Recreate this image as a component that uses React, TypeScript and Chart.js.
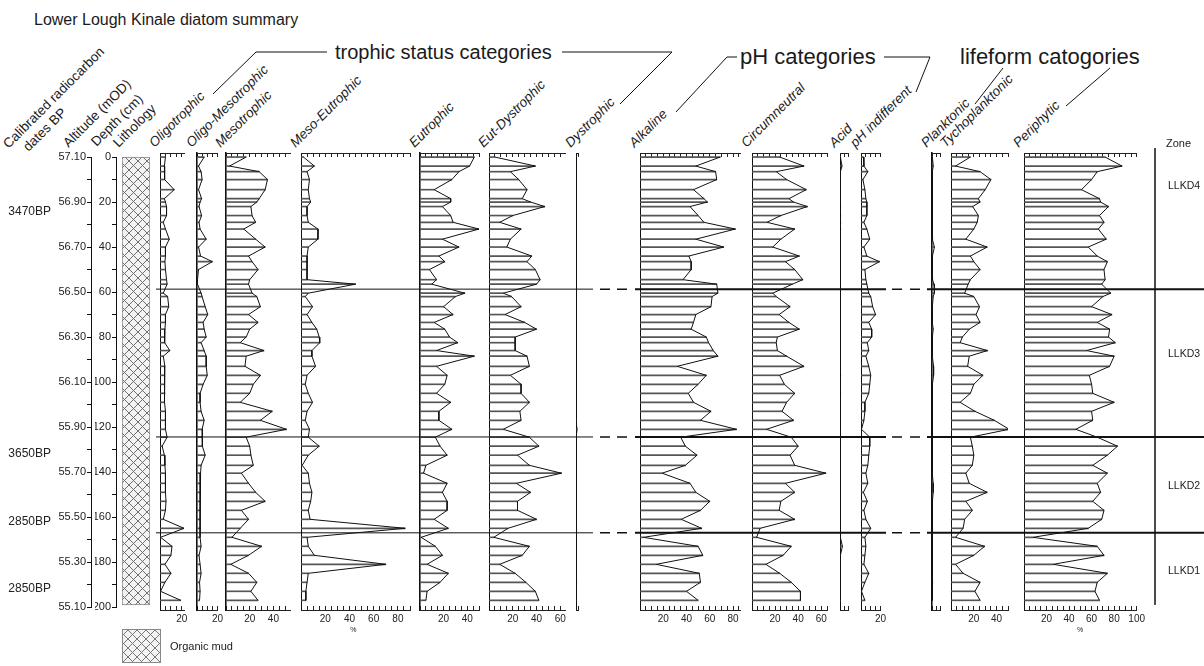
import React, { useEffect, useRef } from 'react';
import { Chart, registerables } from 'chart.js';

Chart.register(...registerables);

const FONT = "'Liberation Sans', Arial, Helvetica, sans-serif";
Chart.defaults.font.family = FONT;
Chart.defaults.color = '#222';

// ---------------- data ----------------
const sampleDepths = [0, 4, 6.5, 10, 14.5, 18.5, 20, 22, 26, 29, 32, 36.5, 40, 44, 46.5, 50, 54.5, 56.5, 60.5, 62, 66.5, 70, 73.5, 76.5, 80, 82.5, 86, 88.5, 93, 97, 101, 105, 109, 113, 117, 121, 124.5, 128.5, 132.5, 137, 140.5, 145, 149, 153, 157, 161, 165, 169, 173, 177, 181, 185, 189, 193, 197];

const oligotrophic = [5, 4, 4.5, 4, 13, 4, 5, 6, 6, 3, 5, 8.5, 5, 5, 4.5, 5, 6, 6.5, 3, 7, 8, 5, 5, 4.5, 4, 4.5, 9, 3, 4.5, 4, 4, 4.5, 4, 5, 5, 5, 6.5, 2, 4, 4.5, 5, 5, 5, 5.5, 5, 3, 22, 0.5, 11, 10, 4.5, 10, 4.5, 0.5, 19];
const oligoMesotrophic = [7, 1.5, 4, 5, 1.5, 4.5, 3, 2, 4.5, 2, 3, 9, 1.5, 3.5, 15, 1.5, 0.5, 0.5, 4, 5, 8, 10.5, 6, 7, 9, 4, 7, 9, 9, 10, 6, 3, 3, 4, 7, 5, 5, 5.5, 8, 4, 3.5, 3, 3, 3, 3, 3, 3, 3, 4, 2, 3, 4, 2.5, 3, 2.5];
const mesotrophic = [17, 3, 28, 35, 33, 28, 26, 21, 22, 25, 15, 25, 33, 19, 22, 27, 20, 19, 22, 26, 29, 19, 27, 20, 17, 12, 32, 17, 16, 29, 23, 20, 12, 39, 29, 51, 17, 20, 21, 23, 13, 19, 25, 33, 13, 19, 12, 5, 30, 19, 4, 19, 26, 21, 27];
const mesoEutrophic = [2, 11, 5, 7, 6, 7, 8, 5, 5, 6, 14, 14, 6, 5, 5, 5, 5, 45, 6, 3.5, 9.5, 5, 9, 13, 15, 15.5, 9, 9, 12, 5, 3.5, 6, 9.5, 5, 3.5, 7, 6, 15, 6, 1, 6, 7, 9, 8, 6, 7.5, 86, 5, 6, 11, 70, 6, 5, 4, 4];
const eutrophic = [46, 42, 33, 27, 12, 26, 26, 19, 26, 28, 50, 19, 33, 16, 21, 8, 14, 10, 38, 30, 20, 28, 12, 21, 25, 32, 14, 46, 14, 23, 21, 14, 26, 16, 16, 27, 13, 17, 23, 5, 3, 23, 19, 23, 23, 12, 24, 1, 13, 19, 6, 24, 17, 6, 5];
const eutDystrophic = [5, 39, 18, 25, 32, 28, 35, 47, 20, 9, 27, 18, 15, 36, 32, 39, 43, 40, 12, 19, 27, 13.5, 30, 40, 22, 22, 22, 32, 34, 18, 27, 27, 34, 26, 27, 12, 34, 42, 24, 34, 61, 23, 35, 24, 24, 40, 16, 4, 34, 28, 9, 22, 31, 39, 42];
const dystrophic = [0, 0, 0, 0, 0, 0, 0, 0, 0, 0, 0, 0, 0, 0, 0, 0, 0, 0, 0, 0, 0, 0, 0, 0, 0, 0, 0, 0, 0, 0, 0, 0, 0, 0, 0.5, 2.5, 0.5, 0, 0, 0, 0, 0, 0, 0, 0, 0, 0, 0, 0, 0, 0, 0.5, 2, 0.5, 0];
const alkaline = [69, 48, 65, 66, 46, 55, 58, 43, 50, 55, 82, 48, 72, 42, 44, 44, 37, 66, 67, 62, 61, 48, 46, 44, 57, 59, 63, 67, 32, 57, 50, 41.5, 46, 61, 52, 83, 35, 39, 49, 39, 19, 43, 48, 60, 52, 35.5, 53, 3, 50, 54, 14, 51, 52, 40, 50];
const circumneutral = [24, 45, 21, 30, 47, 32, 36, 48, 25, 13, 37, 25, 18, 41, 29, 37, 44, 35, 18, 21, 33, 23.5, 32, 41, 22, 21, 22, 30, 45, 24, 28, 37, 30, 26, 36, 12.6, 34, 40, 33, 37, 64, 29, 37, 25, 23.5, 37, 7, 4, 34, 27, 12, 24, 34, 42, 42];
const acid = [0.5, 2.5, 0.5, 0.3, 0.3, 0.5, 0.8, 1, 1, 1, 1, 0.8, 0.5, 0.3, 0.3, 0.3, 0.3, 0.3, 0.3, 0.3, 0.3, 0.3, 0.3, 0.3, 0.3, 0.3, 0.3, 0.3, 0.5, 1, 0.5, 1, 0.5, 0.3, 0.3, 0.3, 0.3, 0.3, 0.3, 0.3, 0.3, 0.3, 0.3, 0.3, 0.3, 0.3, 0.3, 0.5, 3, 0.5, 0.3, 0.3, 0.3, 0.3, 0.3];
const phIndifferent = [2.5, 3, 7, 2, 4, 5, 6, 6, 6, 3, 6, 9, 3, 6, 19, 4, 5, 6, 8, 10, 12, 15, 8, 11, 11, 6.5, 8, 5, 8, 10, 9, 8, 4, 4, 3, 0.5, 9, 9, 8, 7, 5, 7, 2.5, 6.5, 3, 5, 10, 4, 5, 4, 3, 8, 4, 0.5, 4];
const planktonic = [0.5, 1.5, 0.5, 0.3, 0.3, 0.3, 0.3, 0.3, 0.3, 0.3, 0.5, 1, 3, 0.5, 0.3, 0.3, 1, 2.5, 3, 1.5, 0.5, 0.3, 0.5, 1.5, 0.5, 0.3, 0.3, 0.5, 2, 2, 0.5, 0.3, 0.3, 0.3, 0.3, 0.3, 0.3, 0.3, 0.3, 0.3, 0.5, 1.5, 1.5, 0.5, 0.3, 0.3, 0.3, 0.3, 0.3, 0.3, 0.3, 0.5, 1, 0.5, 0.3];
const tychoplanktonic = [17, 4, 25.5, 35, 30, 24, 25.5, 19, 24, 23, 20, 13, 31.7, 17, 20, 25.5, 17, 15, 12, 20, 25, 22, 25.5, 16, 10, 8, 32, 16, 14.6, 28, 20, 17, 8, 21, 38, 51, 17, 18.7, 20, 18.7, 13, 16, 31.7, 13, 18.7, 12, 10.6, 4, 29.5, 20, 4, 10.6, 25.5, 21, 25.5];
const periphytic = [72, 87, 65, 60, 51, 67, 68, 75, 67, 71, 66, 73, 57, 65, 74, 71, 72, 69, 77, 70, 60, 78, 65, 76, 75, 81, 55.5, 80, 76, 58, 60, 61, 80, 60, 61, 46, 65, 83, 74, 61, 74, 65, 68, 61, 71, 69, 57, 8, 65, 71, 26, 74, 65, 63, 67];

const zoneBoundaries = [58.7, 124.4, 167];
const zoneNames = ['LLKD4', 'LLKD3', 'LLKD2', 'LLKD1'];
const zoneLabelDepths = [12.5, 87, 146, 183.5];
const altitudeAtTop = 57.1; // m OD at 0 cm
const dateLabels = ['3470BP', '3650BP', '2850BP', '2850BP'];
const dateDepths = [24.5, 132, 162, 192];
const lithologyUnits = [{ name: 'Organic mud', top: 0, bottom: 199 }];

// ---------------- layout ----------------
const CANVAS_TOP = 143;
const CANVAS_H = 497;
const AXIS_TOP_H = 10;
const AXIS_BOTTOM_H = 30;
const DEPTH_MIN = -1.8;
const DEPTH_MAX = 201.3;
const PAD_L = 3;
const PAD_R = 12;
const PX_PER_CM = (CANVAS_H - AXIS_TOP_H - AXIS_BOTTOM_H) / (DEPTH_MAX - DEPTH_MIN);
const depthPx = (d: number) => CANVAS_TOP + AXIS_TOP_H + (d - DEPTH_MIN) * PX_PER_CM;

type Panel = { name: string; values: number[]; axis: number; max: number; px: number; pct?: boolean; bw?: number };

const panels: Panel[] = [
  { name: 'Oligotrophic', values: oligotrophic, axis: 156, max: 22, px: 1.25 },
  { name: 'Oligo-Mesotrophic', values: oligoMesotrophic, axis: 193, max: 20, px: 1.25, bw: 1.6 },
  { name: 'Mesotrophic', values: mesotrophic, axis: 222, max: 54, px: 1.25, bw: 1.6 },
  { name: 'Meso-Eutrophic', values: mesoEutrophic, axis: 297, max: 90, px: 1.25, pct: true },
  { name: 'Eutrophic', values: eutrophic, axis: 416, max: 50, px: 1.25, bw: 1.6 },
  { name: 'Eut-Dystrophic', values: eutDystrophic, axis: 485, max: 64, px: 1.25 },
  { name: 'Dystrophic', values: dystrophic, axis: 572, max: 5, px: 1.25 },
  { name: 'Alkaline', values: alkaline, axis: 636, max: 86, px: 1.21 },
  { name: 'Circumneutral', values: circumneutral, axis: 748, max: 65, px: 1.21 },
  { name: 'Acid', values: acid, axis: 836, max: 10, px: 1.21 },
  { name: 'pH indifferent', values: phIndifferent, axis: 857, max: 20, px: 1.21 },
  { name: 'Planktonic', values: planktonic, axis: 928, max: 10, px: 1.21, bw: 1.6 },
  { name: 'Tychoplanktonic', values: tychoplanktonic, axis: 947, max: 50, px: 1.21 },
  { name: 'Periphytic', values: periphytic, axis: 1020, max: 100, px: 1.2, pct: true },
];

const zoneSegments = [
  { from: 156, to: 593, width: 1, dash: [] as number[] },
  { from: 600, to: 628, width: 1.5, dash: [10, 7] },
  { from: 635, to: 886, width: 2, dash: [] as number[] },
  { from: 892, to: 921, width: 1.5, dash: [10, 8] },
  { from: 927, to: 1204, width: 2, dash: [] as number[] },
];

const baseOptions = (padding: any) => ({
  animation: false as const,
  responsive: false,
  maintainAspectRatio: false,
  events: [] as any[],
  layout: { padding },
  plugins: { legend: { display: false }, tooltip: { enabled: false } },
});

function ChartCanvas({ left, top, width, height, make }: { left: number; top: number; width: number; height: number; make: (c: HTMLCanvasElement) => Chart }) {
  const ref = useRef<HTMLCanvasElement>(null);
  useEffect(() => {
    const chart = make(ref.current as HTMLCanvasElement);
    return () => chart.destroy();
  }, []);
  return <canvas ref={ref} width={width} height={height} style={{ position: 'absolute', left, top, width, height }} />;
}

function makePanel(p: Panel) {
  return (c: HTMLCanvasElement) => {
    const pts = sampleDepths.map((d, i) => ({ x: p.values[i], y: d }));
    return new Chart(c, {
      type: 'line',
      data: {
        datasets: [
          { type: 'line', data: pts, xAxisID: 'x', yAxisID: 'y', indexAxis: 'y', borderColor: '#111', borderWidth: 1, pointRadius: 0, fill: false, tension: 0, order: 0 } as any,
          { type: 'bar', data: pts, xAxisID: 'x', yAxisID: 'y', indexAxis: 'y', backgroundColor: '#555', barThickness: 1, borderWidth: 0, order: 1 } as any,
        ],
      },
      options: {
        ...baseOptions({ left: PAD_L, right: PAD_R, top: 0, bottom: 0 }),
        scales: {
          y: {
            type: 'linear', position: 'left', reverse: true, min: DEPTH_MIN, max: DEPTH_MAX, offset: false,
            grid: { display: false, offset: false }, ticks: { display: false },
            border: { display: true, color: '#111', width: p.bw || 1 },
            afterFit: (s: any) => { s.width = 0; },
          },
          x: {
            type: 'linear', position: 'top', min: 0, max: p.max, offset: false,
            ticks: { display: false, stepSize: 5, includeBounds: false, autoSkip: false },
            grid: { drawOnChartArea: false, tickLength: -4, color: '#222', lineWidth: 1, offset: false },
            border: { display: true, color: '#222', width: 1 },
            afterFit: (s: any) => { s.height = AXIS_TOP_H; },
          },
          x2: {
            type: 'linear', axis: 'x', position: 'bottom', min: 0, max: p.max, offset: false,
            ticks: {
              stepSize: 5, includeBounds: false, autoSkip: false, maxRotation: 0, minRotation: 0, padding: 7,
              font: { size: 10 }, color: '#222',
              callback: (v: any) => (v > 0 && v % 20 === 0 ? String(v) : ''),
            },
            grid: { drawOnChartArea: false, tickLength: -4, color: '#222', lineWidth: 1 },
            border: { display: true, color: '#222', width: 1 },
            afterFit: (s: any) => { s.height = AXIS_BOTTOM_H; },
          },
        } as any,
      },
    } as any);
  };
}

function makeDepthAxis(width: number, label: (v: number) => string) {
  return (c: HTMLCanvasElement) =>
    new Chart(c, {
      type: 'line',
      data: { datasets: [] },
      options: {
        ...baseOptions({ left: 0, right: 4, top: 14, bottom: 33 }),
        scales: {
          x: { type: 'linear', display: false, min: 0, max: 1 },
          y: {
            type: 'linear', position: 'left', reverse: true, min: 0, max: 200,
            ticks: { stepSize: 10, autoSkip: false, padding: 1, font: { size: 11 }, color: '#222', callback: (v: any) => (v % 20 === 0 ? label(v) : '') },
            grid: { drawOnChartArea: false, tickLength: 4, color: '#111' },
            border: { display: true, color: '#111', width: 1 },
            afterFit: (s: any) => { s.width = width; },
          },
        } as any,
      },
    } as any);
}

function makeDateAxis(c: HTMLCanvasElement) {
  return new Chart(c, {
    type: 'line',
    data: { datasets: [] },
    options: {
      ...baseOptions({ left: 0, right: 4, top: 14, bottom: 33 }),
      scales: {
        x: { type: 'linear', display: false, min: 0, max: 1 },
        y: {
          type: 'linear', position: 'left', reverse: true, min: 0, max: 200,
          afterBuildTicks: (s: any) => { s.ticks = dateDepths.map((v) => ({ value: v })); },
          ticks: { autoSkip: false, padding: 2, font: { size: 12 }, color: '#222', callback: (_v: any, i: number) => dateLabels[i] },
          grid: { display: false, drawTicks: false },
          border: { display: false },
          afterFit: (s: any) => { s.width = 53; },
        },
      } as any,
    },
  } as any);
}

function makeLithology(c: HTMLCanvasElement) {
  const tile = document.createElement('canvas');
  tile.width = 9; tile.height = 9;
  const t = tile.getContext('2d') as CanvasRenderingContext2D;
  t.fillStyle = '#f3f3f3';
  t.fillRect(0, 0, 9, 9);
  t.strokeStyle = '#707070';
  t.lineWidth = 1;
  for (const o of [-9, 0, 9]) {
    t.beginPath(); t.moveTo(o, 0); t.lineTo(o + 9, 9); t.stroke();
    t.beginPath(); t.moveTo(o + 9, 0); t.lineTo(o, 9); t.stroke();
  }
  const pattern = (c.getContext('2d') as CanvasRenderingContext2D).createPattern(tile, 'repeat');
  return new Chart(c, {
    type: 'bar',
    data: {
      labels: ['Lithology'],
      datasets: [{
        data: lithologyUnits.map((u) => ({ x: 'Lithology', y: [u.top, u.bottom] })),
        backgroundColor: pattern as any, borderColor: '#888', borderWidth: 1, borderSkipped: false,
        barPercentage: 1, categoryPercentage: 1, grouped: false,
      } as any],
    },
    options: {
      ...baseOptions({ left: 2, right: 2, top: AXIS_TOP_H, bottom: AXIS_BOTTOM_H }),
      scales: {
        x: { type: 'category', display: false },
        y: { type: 'linear', reverse: true, min: DEPTH_MIN, max: DEPTH_MAX, display: false },
      } as any,
    },
  } as any);
}

function makeZones(c: HTMLCanvasElement) {
  const datasets: any[] = [];
  zoneBoundaries.forEach((d) => {
    zoneSegments.forEach((s) => {
      datasets.push({ data: [{ x: s.from, y: d }, { x: s.to, y: d }], borderColor: '#111', borderWidth: s.width, borderDash: s.dash, pointRadius: 0, fill: false });
    });
  });
  datasets.push({ data: [{ x: 1155, y: -4 }, { x: 1155, y: 199 }], borderColor: '#333', borderWidth: 1, pointRadius: 0, fill: false, clip: false });
  return new Chart(c, {
    type: 'line',
    data: { datasets },
    options: {
      ...baseOptions({ left: 0, right: 0, top: AXIS_TOP_H, bottom: AXIS_BOTTOM_H }),
      scales: {
        x: { type: 'linear', display: false, min: 0, max: 1204 },
        y: { type: 'linear', display: false, reverse: true, min: DEPTH_MIN, max: DEPTH_MAX },
      } as any,
    },
  } as any);
}

function RotLabel({ x, y, text, size = 13.5, italic = false }: { x: number; y: number; text: string; size?: number; italic?: boolean }) {
  const lh = size + 2;
  return (
    <div style={{ position: 'absolute', left: x, top: y - lh, height: lh, lineHeight: lh + 'px', fontSize: size, fontStyle: italic ? 'italic' : 'normal', whiteSpace: 'nowrap', transformOrigin: '0 100%', transform: 'rotate(-45deg)', color: '#1a1a1a' }}>
      {text}
    </div>
  );
}

function Text({ x, y, text, size, style }: { x: number; y: number; text: string; size: number; style?: any }) {
  return (
    <div style={{ position: 'absolute', left: x, top: y - (size + 4) / 2, lineHeight: size + 4 + 'px', fontSize: size, whiteSpace: 'nowrap', color: '#1a1a1a', ...style }}>{text}</div>
  );
}

export default function App() {
  const connectors = [
    '213,94 256,52 327,52',
    '562,52 672,52 620,104',
    '676,112 727,57 737,57',
    '884,57 930,57 916,92',
    '975,104 1003,68',
    '1066,106 1110,68',
  ];
  return (
    <div style={{ position: 'absolute', left: 0, top: 0, width: 1204, height: 666, background: '#fff', overflow: 'hidden', fontFamily: FONT }}>
      <Text x={34} y={20} text="Lower Lough Kinale diatom summary" size={16} />

      <RotLabel x={11} y={151} text="Calibrated radiocarbon" />
      <RotLabel x={31} y={154} text="dates BP" />
      <RotLabel x={71} y={150} text="Altitude (mOD)" />
      <RotLabel x={99} y={149} text="Depth (cm)" />
      <RotLabel x={121} y={150} text="Lithology" />
      {panels.map((p) => (
        <RotLabel key={p.name} x={p.axis + 1} y={150} text={p.name} italic />
      ))}

      <Text x={335} y={52} text="trophic status categories" size={20} />
      <Text x={740} y={57} text="pH categories" size={22} />
      <Text x={960} y={57} text="lifeform catogories" size={22} />
      <svg width={1204} height={666} style={{ position: 'absolute', left: 0, top: 0 }}>
        {connectors.map((pts, i) => (
          <polyline key={i} points={pts} fill="none" stroke="#111" strokeWidth={1} />
        ))}
      </svg>

      <ChartCanvas left={0} top={CANVAS_TOP} width={60} height={CANVAS_H} make={makeDateAxis} />
      <ChartCanvas left={0} top={CANVAS_TOP} width={100} height={CANVAS_H} make={makeDepthAxis(91, (v) => (altitudeAtTop - v / 100).toFixed(2))} />
      <ChartCanvas left={95} top={CANVAS_TOP} width={30} height={CANVAS_H} make={makeDepthAxis(21, (v) => String(v))} />
      <ChartCanvas left={120} top={CANVAS_TOP} width={32} height={CANVAS_H} make={makeLithology} />

      {panels.map((p) => (
        <ChartCanvas key={p.name} left={p.axis - PAD_L} top={CANVAS_TOP} width={Math.round(p.max * p.px) + PAD_L + PAD_R} height={CANVAS_H} make={makePanel(p)} />
      ))}
      {panels.filter((p) => p.pct).map((p) => (
        <Text key={p.name + '%'} x={p.axis + (p.max * p.px) / 2 - 3} y={629} text="%" size={7} />
      ))}

      <ChartCanvas left={0} top={CANVAS_TOP} width={1204} height={CANVAS_H} make={makeZones} />

      <Text x={1166} y={143} text="Zone" size={11} />
      {zoneNames.map((z, i) => (
        <Text key={z} x={1168} y={depthPx(zoneLabelDepths[i])} text={z} size={10.5} />
      ))}

      <div style={{ position: 'absolute', left: 122, top: 629, width: 37, height: 32, border: '1px solid #888', backgroundColor: '#f3f3f3', backgroundImage: 'repeating-linear-gradient(45deg, #777 0px, #777 1px, transparent 1px, transparent 6.4px), repeating-linear-gradient(-45deg, #777 0px, #777 1px, transparent 1px, transparent 6.4px)' }} />
      <Text x={170} y={646} text={lithologyUnits[0].name} size={11} />
    </div>
  );
}
